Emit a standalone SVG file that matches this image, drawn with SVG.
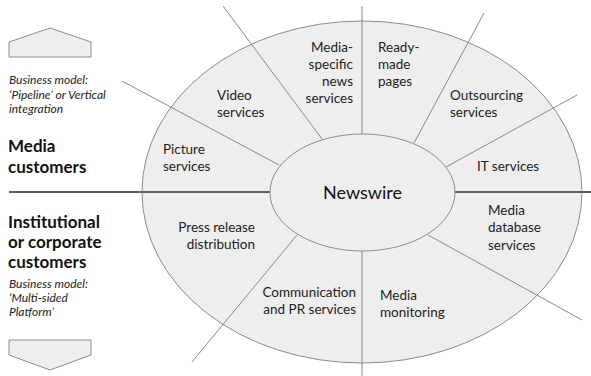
<svg xmlns="http://www.w3.org/2000/svg" width="591" height="376" viewBox="0 0 591 376">
<style>
.lbl{font-family:Lato,"Open Sans",sans-serif;font-size:13.5px;fill:#222}
.r{text-anchor:end}
.big{font-family:Lato,"Open Sans",sans-serif;font-size:17px;font-weight:bold;fill:#111}
.it{font-family:Lato,"Open Sans",sans-serif;font-size:12px;font-style:italic;fill:#222}
.sh{fill:#eeeeee;stroke:#8c8c8c;stroke-width:1}
.ln{stroke:#8a8a8a;stroke-width:1;fill:none}
.hl{stroke:#606060;stroke-width:2;fill:none}
</style>
<rect width="591" height="376" fill="#fff"/>
<g id="outer"><ellipse class="sh" cx="362" cy="192" rx="220" ry="171"/></g>
<g id="connectors">
<line class="hl" x1="9" y1="192" x2="270" y2="192"/>
<line class="hl" x1="455" y1="192" x2="591" y2="192"/>
<line class="ln" x1="362" y1="6" x2="362" y2="134"/>
<line class="ln" x1="223" y1="6" x2="322" y2="139"/>
<line class="ln" x1="122" y1="81" x2="279" y2="165"/>
<line class="ln" x1="484" y1="13" x2="414" y2="143"/>
<line class="ln" x1="577" y1="95" x2="446" y2="167"/>
<line class="ln" x1="297" y1="235" x2="192" y2="362"/>
<line class="ln" x1="362" y1="251" x2="362" y2="376"/>
<line class="ln" x1="428" y1="235" x2="582" y2="320"/>
</g>
<g id="newswire"><ellipse class="sh" cx="362.5" cy="192.5" rx="92.5" ry="58.5"/><text x="362.5" y="199" text-anchor="middle" style="font-family:Lato,'Open Sans',sans-serif;font-size:18px;fill:#111">Newswire</text></g>
<g id="media-specific"><text class="lbl r" x="353" y="52">Media-</text><text class="lbl r" x="353" y="69">specific</text><text class="lbl r" x="353" y="86">news</text><text class="lbl r" x="353" y="103">services</text></g>
<g id="ready-made"><text class="lbl" x="378" y="52">Ready-</text><text class="lbl" x="378" y="69">made</text><text class="lbl" x="378" y="86">pages</text></g>
<g id="video"><text class="lbl" x="217" y="100">Video</text><text class="lbl" x="217" y="117">services</text></g>
<g id="picture"><text class="lbl" x="163" y="154">Picture</text><text class="lbl" x="163" y="171">services</text></g>
<g id="outsourcing"><text class="lbl" x="450" y="100">Outsourcing</text><text class="lbl" x="450" y="117">services</text></g>
<g id="it"><text class="lbl" x="477" y="171">IT services</text></g>
<g id="press"><text class="lbl r" x="255" y="232">Press release</text><text class="lbl r" x="255" y="249">distribution</text></g>
<g id="mediadb"><text class="lbl" x="488" y="215">Media</text><text class="lbl" x="488" y="232">database</text><text class="lbl" x="488" y="250">services</text></g>
<g id="comm"><text class="lbl r" x="356" y="297">Communication</text><text class="lbl r" x="356" y="314">and PR services</text></g>
<g id="monitoring"><text class="lbl" x="380" y="300">Media</text><text class="lbl" x="380" y="317">monitoring</text></g>
<g id="media-customers">
<polygon class="sh" points="9,57 9,42 50,28 91,42 91,57"/>
<text class="it" x="9" y="84">Business model:</text><text class="it" x="9" y="99">‘Pipeline’ or Vertical</text><text class="it" x="9" y="113">integration</text>
<text class="big" x="8" y="152">Media</text><text class="big" x="8" y="173">customers</text>
</g>
<g id="institutional">
<text class="big" x="8" y="228">Institutional</text><text class="big" x="8" y="248">or corporate</text><text class="big" x="8" y="268">customers</text>
<text class="it" x="9" y="288">Business model:</text><text class="it" x="9" y="302">‘Multi-sided</text><text class="it" x="9" y="316">Platform’</text>
<polygon class="sh" points="9,340 91,340 91,355 50,370 9,355"/>
</g>
</svg>
